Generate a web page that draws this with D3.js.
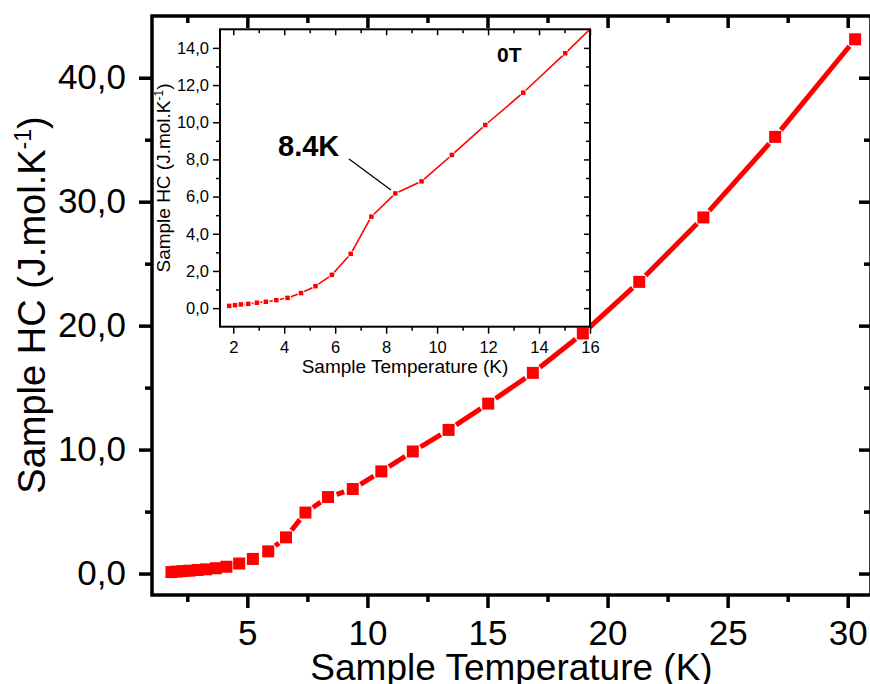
<!DOCTYPE html>
<html>
<head>
<meta charset="utf-8">
<script src="https://cdn.jsdelivr.net/npm/d3@7"></script>
<style>
  body { margin: 0; background: #fff; }
  svg { display: block; }
  text { font-family: "Liberation Sans", Arial, sans-serif; fill: #000; }
</style>
</head>
<body>
<div id="chart"></div>
<script>
const temperature = [1.84, 2.07, 2.30, 2.59, 2.93, 3.28, 3.69, 4.13, 4.66, 5.23, 5.87, 6.61, 7.42,
    8.36, 9.39, 10.58, 11.89, 13.38, 15.03, 16.89, 18.97, 21.32, 23.99, 26.98, 30.31];
const heatCapacity = [0.12, 0.16, 0.20, 0.23, 0.29, 0.34, 0.43, 0.55, 0.81, 1.18, 1.79, 2.92, 4.92,
    6.17, 6.82, 8.24, 9.85, 11.59, 13.71, 16.19, 19.37, 23.53, 28.73, 35.23, 43.10];

// tick values
const mainXTicks = [5, 10, 15, 20, 25, 30];
const mainXMinor = [2.5, 7.5, 12.5, 17.5, 22.5, 27.5];
const mainYTicks = [0, 10, 20, 30, 40];
const mainYMinor = [5, 15, 25, 35];
const insetXTicks = [2, 4, 6, 8, 10, 12, 14, 16];
const insetXMinor = [3, 5, 7, 9, 11, 13, 15];
const insetYTicks = [0, 2, 4, 6, 8, 10, 12, 14];
const insetYMinor = [1, 3, 5, 7, 9, 11, 13];

const data = temperature.map((t, i) => ({t: t, hc: heatCapacity[i]}));
const commaFmt = d => d3.format(".1f")(d).replace(".", ",");

const width = 870, height = 684;
const svg = d3.select("#chart").append("svg")
    .attr("width", width)
    .attr("height", height);

// main plot area
const main = {left: 152, right: 871, top: 16, bottom: 595};
const x = d3.scaleLinear().domain([1.03, 30.97]).range([main.left, main.right]);
const y = d3.scaleLinear().domain([-1.73, 44.98]).range([main.bottom, main.top]);

// inset area
const ins = {left: 220, right: 590, top: 29.3, bottom: 326.7};
const xi = d3.scaleLinear().domain([1.48, 16]).range([ins.left, ins.right]);
const yi = d3.scaleLinear().domain([-1, 15]).range([ins.bottom, ins.top]);

// line segments with a gap around every symbol (origin style)
function gappedSegments(pts, gap) {
    const segs = [];
    for (let i = 0; i < pts.length - 1; i++) {
        const [x1, y1] = pts[i], [x2, y2] = pts[i + 1];
        const dx = x2 - x1, dy = y2 - y1;
        const len = Math.hypot(dx, dy);
        if (len <= 2 * gap) continue;
        const ux = dx / len, uy = dy / len;
        segs.push([x1 + ux * gap, y1 + uy * gap, x2 - ux * gap, y2 - uy * gap]);
    }
    return segs;
}

function drawSeries(g, xs, ys, cfg) {
    const pts = data.map(d => [xs(d.t), ys(d.hc)]);
    g.selectAll(".seg")
        .data(gappedSegments(pts, cfg.gap))
        .join("line")
        .attr("class", "seg")
        .attr("x1", s => s[0]).attr("y1", s => s[1])
        .attr("x2", s => s[2]).attr("y2", s => s[3])
        .attr("stroke", "#ff0000")
        .attr("stroke-width", cfg.lineWidth);
    g.selectAll(".marker")
        .data(pts)
        .join("rect")
        .attr("class", "marker")
        .attr("x", p => p[0] - cfg.size / 2)
        .attr("y", p => p[1] - cfg.size / 2)
        .attr("width", cfg.size)
        .attr("height", cfg.size)
        .attr("fill", "#ff0000");
}

function drawFrame(g, box, xs, ys, cfg) {
    const addAxis = (axis, tx, ty) => {
        const ag = g.append("g").attr("transform", "translate(" + tx + "," + ty + ")").call(axis);
        ag.select(".domain").remove();
        ag.selectAll("line").attr("stroke", "#000").attr("stroke-width", cfg.tickWidth);
        ag.selectAll("text").style("font-size", cfg.font + "px").attr("fill", "#000");
        return ag;
    };
    // bottom and left point outward and carry the labels
    addAxis(d3.axisBottom(xs).tickValues(cfg.xTicks).tickSize(cfg.major).tickPadding(cfg.xPad)
        .tickFormat(d => d), 0, box.bottom);
    addAxis(d3.axisBottom(xs).tickValues(cfg.xMinor).tickSize(cfg.minor).tickFormat(""), 0, box.bottom);
    addAxis(d3.axisLeft(ys).tickValues(cfg.yTicks).tickSize(cfg.major).tickPadding(cfg.yPad)
        .tickFormat(commaFmt), box.left, 0);
    addAxis(d3.axisLeft(ys).tickValues(cfg.yMinor).tickSize(cfg.minor).tickFormat(""), box.left, 0);
    // top and right point inward
    addAxis(d3.axisTop(xs).tickValues(cfg.xTicks).tickSize(-cfg.innerMajor).tickFormat(""), 0, box.top);
    addAxis(d3.axisTop(xs).tickValues(cfg.xMinor).tickSize(-cfg.innerMinor).tickFormat(""), 0, box.top);
    addAxis(d3.axisRight(ys).tickValues(cfg.yTicks).tickSize(-cfg.innerMajor).tickFormat(""), box.right, 0);
    addAxis(d3.axisRight(ys).tickValues(cfg.yMinor).tickSize(-cfg.innerMinor).tickFormat(""), box.right, 0);

    g.append("rect")
        .attr("x", box.left).attr("y", box.top)
        .attr("width", box.right - box.left)
        .attr("height", box.bottom - box.top)
        .attr("fill", "none")
        .attr("stroke", "#000")
        .attr("stroke-width", cfg.frameWidth);
}

// ---- main plot ----
const mainG = svg.append("g").attr("class", "mainG");
drawSeries(mainG.append("g"), x, y, {gap: 9, lineWidth: 5, size: 12});
drawFrame(mainG.append("g"), main, x, y, {
    xTicks: mainXTicks, xMinor: mainXMinor, yTicks: mainYTicks, yMinor: mainYMinor,
    major: 13, minor: 7, innerMajor: 12, innerMinor: 7,
    xPad: 12, yPad: 13, font: 35, tickWidth: 3.5, frameWidth: 3.5
});

mainG.append("text")
    .attr("x", (main.left + main.right) / 2)
    .attr("y", 680)
    .attr("text-anchor", "middle")
    .style("font-size", "37px")
    .text("Sample Temperature (K)");

const yTitle = mainG.append("text")
    .attr("transform", "translate(45,305) rotate(-90)")
    .attr("text-anchor", "middle")
    .style("font-size", "38px");
yTitle.append("tspan").text("Sample HC (J.mol.K");
yTitle.append("tspan").attr("dy", -14).style("font-size", "23px").text("-1");
yTitle.append("tspan").attr("dy", 14).text(")");

// ---- inset ----
const insetG = svg.append("g").attr("class", "insetG");
insetG.append("rect")
    .attr("x", ins.left).attr("y", ins.top)
    .attr("width", ins.right - ins.left)
    .attr("height", ins.bottom - ins.top)
    .attr("fill", "#fff");

svg.append("defs").append("clipPath").attr("id", "insetClip")
    .append("rect")
    .attr("x", ins.left).attr("y", ins.top)
    .attr("width", ins.right - ins.left)
    .attr("height", ins.bottom - ins.top);

drawSeries(insetG.append("g").attr("clip-path", "url(#insetClip)"), xi, yi,
    {gap: 3.5, lineWidth: 1.6, size: 4.5});
drawFrame(insetG.append("g"), ins, xi, yi, {
    xTicks: insetXTicks, xMinor: insetXMinor, yTicks: insetYTicks, yMinor: insetYMinor,
    major: 7, minor: 4, innerMajor: 6, innerMinor: 4,
    xPad: 8, yPad: 4, font: 16.5, tickWidth: 1.5, frameWidth: 2
});

insetG.append("text")
    .attr("x", (ins.left + ins.right) / 2)
    .attr("y", 372.5)
    .attr("text-anchor", "middle")
    .style("font-size", "19px")
    .text("Sample Temperature (K)");

const yiTitle = insetG.append("text")
    .attr("transform", "translate(170,178) rotate(-90)")
    .attr("text-anchor", "middle")
    .style("font-size", "19px");
yiTitle.append("tspan").text("Sample HC (J.mol.K");
yiTitle.append("tspan").attr("dy", -7).style("font-size", "12px").text("-1");
yiTitle.append("tspan").attr("dy", 7).text(")");

// annotations
insetG.append("line")
    .attr("x1", 349).attr("y1", 159)
    .attr("x2", 391).attr("y2", 190)
    .attr("stroke", "#000")
    .attr("stroke-width", 1.3);
insetG.append("text")
    .attr("x", 278).attr("y", 155.5)
    .style("font-size", "29px").style("font-weight", "bold")
    .text("8.4K");
insetG.append("text")
    .attr("x", 497).attr("y", 61.7)
    .style("font-size", "21px").style("font-weight", "bold")
    .text("0T");
</script>
</body>
</html>
